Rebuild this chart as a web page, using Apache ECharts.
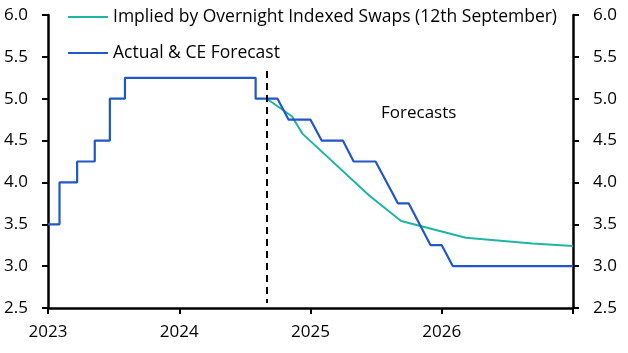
<!DOCTYPE html>
<html>
<head>
<meta charset="utf-8">
<script src="https://cdn.jsdelivr.net/npm/echarts@6/dist/echarts.min.js"></script>
<style>
  html, body { margin: 0; padding: 0; background: #fff; }
  #chart { width: 628px; height: 353px; }
</style>
</head>
<body>
<div id="chart"></div>
<script>
// Bank rate: actual path (step changes) and CE forecast, monthly after Aug 2024
const actualDates = [
  '2023-01-01', '2023-02-02', '2023-02-02', '2023-03-23', '2023-03-23',
  '2023-05-11', '2023-05-11', '2023-06-22', '2023-06-22', '2023-08-03',
  '2023-08-03', '2024-08-01', '2024-08-01', '2024-10-01', '2024-11-01',
  '2025-01-01', '2025-02-01', '2025-04-01', '2025-05-01', '2025-07-01',
  '2025-09-01', '2025-10-01', '2025-12-01', '2026-01-01', '2026-02-01',
  '2027-01-01'
];
const actualValues = [
  3.5, 3.5, 4.0, 4.0, 4.25,
  4.25, 4.5, 4.5, 5.0, 5.0,
  5.25, 5.25, 5.0, 5.0, 4.75,
  4.75, 4.5, 4.5, 4.25, 4.25,
  3.75, 3.75, 3.25, 3.25, 3.0,
  3.0
];

// Market pricing from OIS (12th September)
const oisDates = [
  '2024-09-01', '2024-11-10', '2024-12-10', '2025-06-14',
  '2025-09-10', '2026-03-09', '2026-09-10', '2027-01-01'
];
const oisValues = [5.0, 4.79, 4.58, 3.84, 3.54, 3.34, 3.27, 3.24];

const yearTicks = [2023, 2024, 2025, 2026];
const forecastStart = '2024-09-01';
const forecastLineRange = [5.33, 2.56];
const forecastLabel = 'Forecasts';
const seriesNames = ['Implied by Overnight Indexed Swaps (12th September)', 'Actual & CE Forecast'];

const FONT = 'Open Sans';

function toYear(s) {
  const [y, m, d] = s.split('-').map(Number);
  const start = Date.UTC(y, 0, 1);
  const end = Date.UTC(y + 1, 0, 1);
  return y + (Date.UTC(y, m - 1, d) - start) / (end - start);
}

const actualData = actualDates.map((d, i) => [toYear(d), actualValues[i]]);
const oisData = oisDates.map((d, i) => [toYear(d), oisValues[i]]);
const xStart = toYear(forecastStart);

const chart = echarts.init(document.getElementById('chart'));

const yAxisBase = {
  type: 'value',
  min: 2.5,
  max: 6.0,
  interval: 0.5,
  axisLine: { show: true, lineStyle: { color: '#000', width: 2.5 } },
  axisTick: { show: true, inside: false, length: 6, lineStyle: { color: '#000', width: 2 } },
  axisLabel: {
    color: '#000', fontFamily: FONT, fontSize: 17, margin: 20,
    formatter: v => v.toFixed(1)
  },
  splitLine: { show: false }
};

chart.setOption({
  animation: false,
  grid: { left: 48, right: 55, top: 15, bottom: 45 },
  legend: {
    orient: 'vertical',
    left: 68,
    top: 6,
    padding: 0,
    itemWidth: 40,
    itemHeight: 2,
    itemGap: 14,
    icon: 'rect',
    textStyle: { color: '#000', fontFamily: FONT, fontSize: 17.5, lineHeight: 22 },
    data: seriesNames
  },
  xAxis: {
    type: 'value',
    min: 2023,
    max: 2027,
    interval: 1,
    axisLine: { show: true, lineStyle: { color: '#000', width: 2.5 } },
    axisTick: { show: true, length: 6, lineStyle: { color: '#000', width: 2 } },
    axisLabel: {
      color: '#000', fontFamily: FONT, fontSize: 17, margin: 16,
      formatter: v => (yearTicks.includes(v) ? String(v) : '')
    },
    splitLine: { show: false }
  },
  yAxis: [
    Object.assign({}, yAxisBase, { position: 'left' }),
    Object.assign({}, yAxisBase, { position: 'right' })
  ],
  series: [
    {
      name: seriesNames[0],
      type: 'line',
      data: oisData,
      symbol: 'none',
      color: '#1fb5a3',
      lineStyle: { width: 2, color: '#1fb5a3' },
      z: 3,
      markLine: {
        silent: true,
        symbol: 'none',
        label: { show: false },
        lineStyle: { color: '#000', type: [7, 5], width: 2 },
        data: [[{ coord: [xStart, forecastLineRange[0]] }, { coord: [xStart, forecastLineRange[1]] }]]
      }
    },
    {
      name: seriesNames[1],
      type: 'line',
      data: actualData,
      symbol: 'none',
      color: '#2157c8',
      lineStyle: { width: 2.2, color: '#2157c8' },
      z: 4
    }
  ],
  graphic: [
    {
      type: 'text',
      left: 381,
      top: 105,
      style: { text: forecastLabel, fill: '#000', font: '17px "' + FONT + '"' }
    }
  ]
});
</script>
</body>
</html>
